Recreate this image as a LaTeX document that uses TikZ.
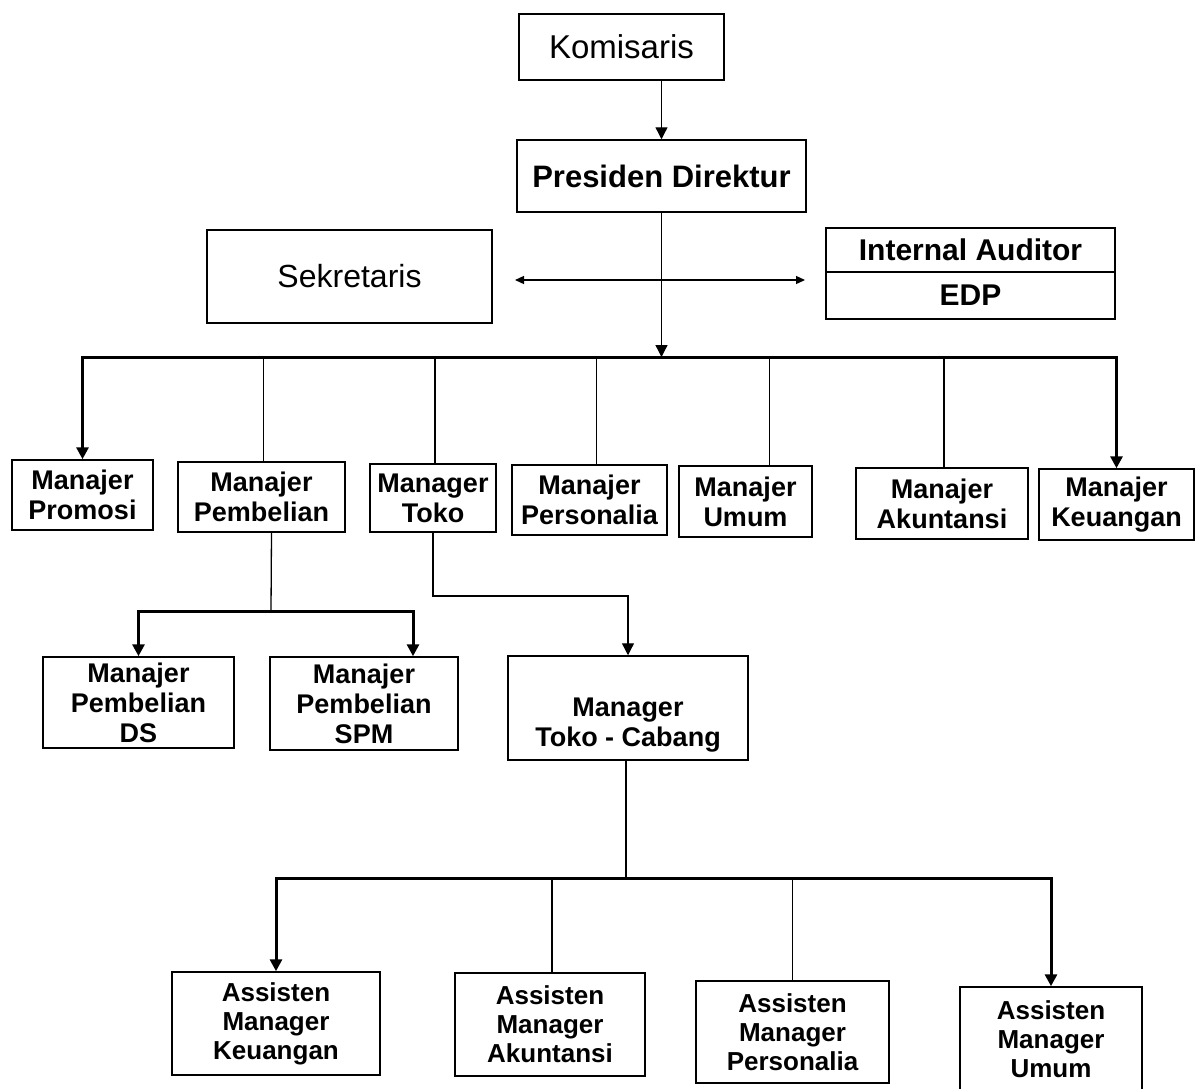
\documentclass[tikz,border=0pt]{standalone}
\usepackage{fontspec}
\setmainfont{Liberation Sans}
\usetikzlibrary{arrows.meta,positioning}

\tikzset{
  jabatan/.style={draw, line width=1.5pt, align=center, inner sep=0pt,
                  font=\bfseries\fontsize{27}{30}\selectfont},
  asisten/.style={jabatan, font=\bfseries\fontsize{26}{29}\selectfont},
  pimpinan/.style={draw, line width=1.5pt, align=center, inner sep=0pt,
                  font=\fontsize{33}{36}\selectfont},
  garis/.style={line width=1.3pt},
  garistebal/.style={line width=3pt}
}

\begin{document}
\begin{tikzpicture}[x=1pt, y=-1pt, >={Triangle[length=12pt,width=12pt]}]
                \useasboundingbox (0,0) rectangle (1195,1088);

                \node [pimpinan, minimum width=205pt, minimum height=66pt]
                                        (komisaris) at (621.5,47) {Komisaris};
                \node [pimpinan, font=\bfseries\fontsize{31}{36}\selectfont,
                        minimum width=289pt, minimum height=72pt]
                                        (presdir) at (661.5,176) {Presiden Direktur};
                \node [pimpinan, font=\fontsize{32}{36}\selectfont,
                        minimum width=285pt, minimum height=93pt]
                                        (sekretaris) at (349.5,276.5) {Sekretaris};
                \node [pimpinan, font=\bfseries\fontsize{30}{36}\selectfont,
                        minimum width=289pt, minimum height=44pt]
                                        (auditor) at (970.5,250) {Internal Auditor};
                \node [pimpinan, font=\bfseries\fontsize{30}{36}\selectfont,
                        minimum width=289pt, minimum height=47pt,
                        below = -1.5pt of auditor]
                                        (edp) {EDP};

                \node [jabatan, minimum width=141pt, minimum height=70pt]
                                        (promosi) at (82.5,495) {Manajer\\Promosi};
                \node [jabatan, minimum width=167pt, minimum height=70pt]
                                        (pembelian) at (261.5,497) {Manajer\\Pembelian};
                \node [jabatan, minimum width=126pt, minimum height=68pt]
                                        (toko) at (433,498) {Manager\\Toko};
                \node [jabatan, minimum width=155pt, minimum height=70pt]
                                        (personalia) at (589.5,500) {Manajer\\Personalia};
                \node [jabatan, minimum width=133pt, minimum height=71pt]
                                        (umum) at (745.5,501.5) {Manajer\\Umum};
                \node [jabatan, minimum width=172pt, minimum height=71pt]
                                        (akuntansi) at (942,503.5) {Manajer\\Akuntansi};
                \node [jabatan, minimum width=155pt, minimum height=71pt]
                                        (keuangan) at (1116.5,504.5) {Manajer\\Keuangan};

                \node [jabatan, minimum width=191pt, minimum height=91pt]
                                        (ds) at (138.5,702.5) {Manajer\\Pembelian\\DS};
                \node [jabatan, minimum width=188pt, minimum height=93pt]
                                        (spm) at (364,703.5) {Manajer\\Pembelian\\SPM};
                \node [jabatan, minimum width=240pt, minimum height=104pt,
                        label={[align=center, font=\bfseries\fontsize{27}{30}\selectfont,
                                yshift=-17pt]center:Manager\\Toko - Cabang}]
                                        (cabang) at (628,708) {};

                \node [asisten, minimum width=208pt, minimum height=103pt]
                                        (ak1) at (276,1023.5) {Assisten\\Manager\\Keuangan};
                \node [asisten, minimum width=190pt, minimum height=103pt]
                                        (ak2) at (550,1024.5) {Assisten\\Manager\\Akuntansi};
                \node [asisten, minimum width=193pt, minimum height=102pt]
                                        (ak3) at (792.5,1032) {Assisten\\Manager\\Personalia};
                \node [asisten, minimum width=182pt, minimum height=105pt]
                                        (ak4) at (1051,1039.5) {Assisten\\Manager\\Umum};

                \coordinate (busatas) at (presdir.south |- 0,357);
                \coordinate (kiri) at (515,280);
                \coordinate (kanan) at (805,280);
                \coordinate (busbeli) at (271,611);
                \coordinate (belok) at (433,596);
                \coordinate (busbawah) at (626,878);

                \draw [garis, ->] (komisaris.south -| presdir.north) -- (presdir.north);
                \draw [garis, ->] (presdir.south) -- (busatas);
                \draw [garis, <->, >={Triangle[length=9pt,width=8pt]}] (kiri) -- (kanan);

                \draw [garistebal, <->] (promosi.north) |- (busatas) -| (keuangan.north);
                \foreach \n/\s in {pembelian/2, toko/2, personalia/7, umum/24, akuntansi/2}
                    \draw [garis] ([xshift=\s pt]\n.north) -- ([xshift=\s pt]\n.north |- busatas);

                \draw [garis] ([xshift=10pt]pembelian.south) -- (busbeli);
                \draw [garistebal, <->] (ds.north) |- (busbeli) -| ([xshift=49pt]spm.north);

                \draw [garis, ->] (toko.south) -- (belok) -| (cabang.north);

                \draw [garis] (cabang.south -| busbawah) -- (busbawah);
                \draw [garistebal, <->] (ak1.north) |- (busbawah) -| (ak4.north);
                \draw [garis] ([xshift=2pt]ak2.north) -- ([xshift=2pt]ak2.north |- busbawah);
                \draw [garis] (ak3.north) -- (ak3.north |- busbawah);
            \end{tikzpicture}
\end{document}
